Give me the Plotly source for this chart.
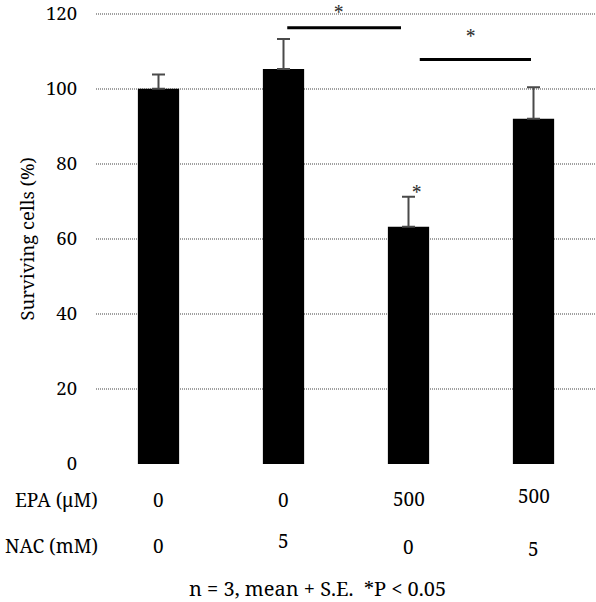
import plotly.graph_objects as go

# ---- data ----
groups = ["G1", "G2", "G3", "G4"]
epa_labels = ["0", "0", "500", "500"]
nac_labels = ["0", "5", "0", "5"]
surviving = [100.0, 105.3, 63.2, 92.0]
se = [3.8, 8.0, 8.0, 8.4]
y_ticks = [0, 20, 40, 60, 80, 100, 120]

FONT = "Noto Serif, DejaVu Serif, serif"
W, H = 596, 602
L, R, T, B = 96, 0, 7, 138
plot_h = H - T - B
YMAX = 121


def py(p):
    """pixel y -> paper y"""
    return (H - B - p) / plot_h


def px(p):
    return (p - L) / (W - L - R)


fig = go.Figure()
fig.add_trace(go.Bar(
    x=list(range(len(groups))), y=surviving, width=0.33,
    marker=dict(color="black", line=dict(width=0)),
    error_y=dict(type="data", array=se, arrayminus=[0] * len(se), symmetric=False,
                 color="#4a4a4a", thickness=2, width=6.5),
))

# significance brackets
fig.add_shape(type="line", x0=1.03, x1=1.94, y0=116.3, y1=116.3, line=dict(color="black", width=3))
fig.add_shape(type="line", x0=2.09, x1=2.98, y0=107.8, y1=107.8, line=dict(color="black", width=3))

# asterisks (x in category units, y = pixel of the glyph centre)
stars = [(1.44, 5), (2.5, 29), (2.07, 186)]
for sx, sy in stars:
    fig.add_annotation(x=sx, y=py(sy), xref="x", yref="paper", text="*", showarrow=False,
                       font=dict(family=FONT, size=19, color="#333"), yanchor="middle", yshift=-5)

# bottom table
row_y = [500, 547]
row_names = ["EPA (μM)", "NAC (mM)"]
for ry, name in zip(row_y, row_names):
    fig.add_annotation(x=px(100), y=py(ry), xref="paper", yref="paper", text=name, showarrow=False,
                       xanchor="right", yanchor="middle", font=dict(family=FONT, size=19, color="black"))
epa_dy = [0, 0, -1, -4]
nac_dy = [0, -5, 1, 3]
for i in range(len(groups)):
    fig.add_annotation(x=i, y=py(row_y[0] + epa_dy[i]), xref="x", yref="paper", text=epa_labels[i],
                       showarrow=False, yanchor="middle", font=dict(family=FONT, size=19, color="black"))
    fig.add_annotation(x=i, y=py(row_y[1] + nac_dy[i]), xref="x", yref="paper", text=nac_labels[i],
                       showarrow=False, yanchor="middle", font=dict(family=FONT, size=19, color="black"))

fig.add_annotation(x=px(317), y=py(589), xref="paper", yref="paper",
                   text="n = 3, mean + S.E.  *P < 0.05", showarrow=False,
                   xanchor="center", yanchor="middle", font=dict(family=FONT, size=20, color="black"))

fig.add_annotation(x=px(26), y=py(237), xref="paper", yref="paper", text="Surviving cells (%)",
                   textangle=-90, showarrow=False, xanchor="center", yanchor="middle",
                   font=dict(family=FONT, size=18.5, color="black"))

fig.update_layout(
    width=W, height=H, margin=dict(l=L, r=R, t=T, b=B),
    paper_bgcolor="white", plot_bgcolor="white", showlegend=False,
    font=dict(family=FONT, size=19, color="black"),
    xaxis=dict(range=[-0.5, 3.5], showticklabels=False, showgrid=False, zeroline=False,
               showline=False, ticks=""),
    yaxis=dict(range=[0, YMAX], tickvals=y_ticks, showgrid=True, gridcolor="#a0a0a0", gridwidth=2,
               griddash="1px,1px", zeroline=False, showline=False, ticks="", ticklabelstandoff=18,
               ticklabeloverflow="allow",
               tickfont=dict(family=FONT, size=18.5, color="black")),
)
fig.update_traces(cliponaxis=False)

fig.write_html("out.html", config={"displayModeBar": False},
               post_script="document.body.style.margin='0';document.body.style.padding='0';")
